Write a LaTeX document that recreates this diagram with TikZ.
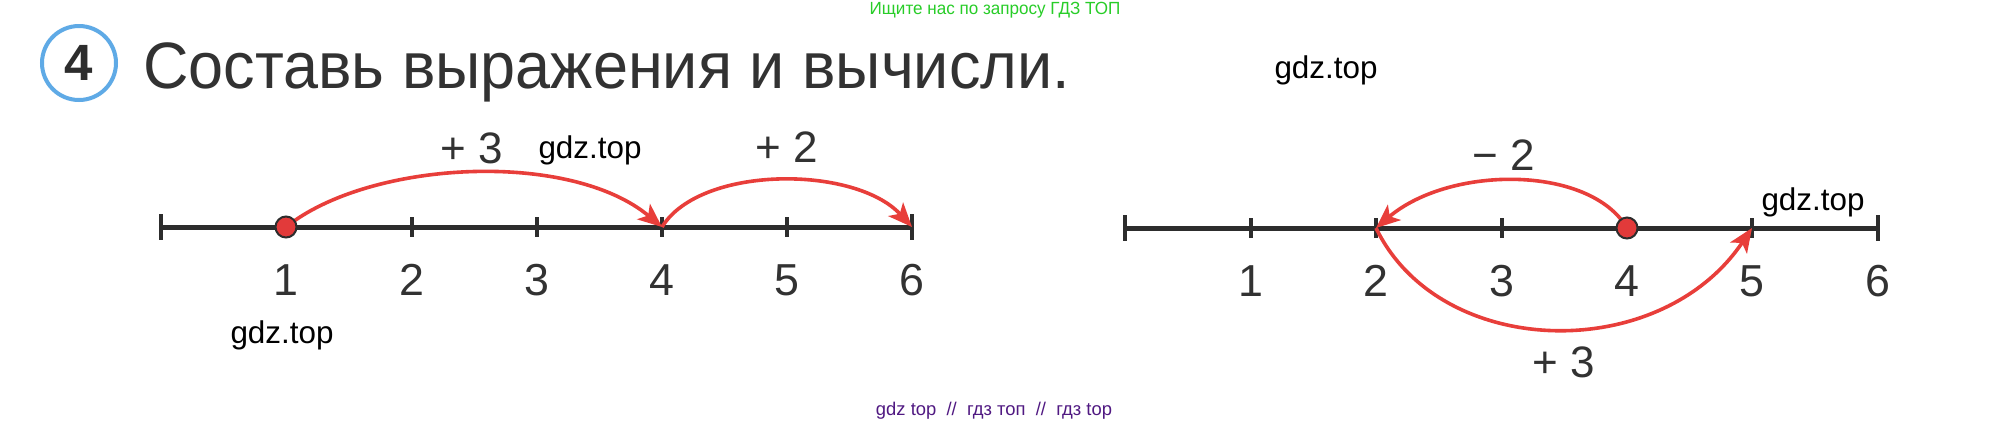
\documentclass[tikz,border=0pt]{standalone}
\usepackage{fontspec}
\setmainfont{Liberation Sans}
\usetikzlibrary{arrows.meta,calc}
\definecolor{axisgray}{RGB}{45,45,45}
\definecolor{textgray}{RGB}{50,50,50}
\definecolor{arcred}{RGB}{232,62,58}
\definecolor{dotred}{RGB}{226,58,58}
\definecolor{circblue}{RGB}{95,170,230}
\definecolor{wmgreen}{RGB}{40,205,40}
\definecolor{wmpurple}{RGB}{80,25,130}
\begin{document}
\begin{tikzpicture}[x=0.5pt,y=-0.5pt,
  axis/.style={draw=axisgray,line width=2.5pt},
  tickm/.style={draw=axisgray,line width=2pt},
  jump/.style={draw=arcred,line width=1.8pt,-{Stealth[length=12pt,width=10pt,inset=3pt]}},
  num/.style={inner sep=0pt,text=textgray,font=\fontsize{22.4pt}{26pt}\selectfont},
  jlabel/.style={inner sep=0pt,text=textgray,font=\fontsize{22pt}{26pt}\selectfont},
  dot/.style={circle,inner sep=0pt,minimum size=10.5pt,fill=dotred,draw=axisgray,line width=1pt},
  wm/.style={inner sep=0pt,text=black,font=\fontsize{15.7pt}{18pt}\selectfont}]
\fill[white] (0,0) rectangle (1990,425);
\useasboundingbox (0,0) rectangle (1990,425);
% header
\node[wm,text=wmgreen,font=\fontsize{8.8pt}{10pt}\selectfont] (topnote) at (995,10) {\scalebox{0.97}[1]{Ищите нас по запросу ГДЗ ТОП}};
\node[circle,draw=circblue,line width=2pt,minimum size=37pt,inner sep=0pt,fill=white,
      text=axisgray,font=\fontsize{25.5pt}{28pt}\selectfont\bfseries] (badge) at (79,63) {4};
\node[anchor=base west,inner sep=0pt,text=textgray,font=\fontsize{32.8pt}{38pt}\selectfont] (title) at (143,88) {\scalebox{0.96}[1]{Составь выражения и вычисли.}};
\node[wm] (wmA) at (1326,70) {gdz.top};
% number lines
\foreach \i/\x in {0/161,1/286,2/412,3/537,4/662,5/787,6/912}
  \coordinate (L\i) at (\x,227);
\foreach \i/\x in {0/1125,1/1251,2/1376,3/1502,4/1627,5/1752,6/1878}
  \coordinate (R\i) at (\x,228);
\draw[axis] (L0) -- (L6);
\draw[axis] (R0) -- (R6);
\foreach \s in {L,R}{
  \foreach \i in {0,6} \draw[tickm] (\s\i) ++(0,-13) -- ++(0,26);
  \foreach \i in {1,...,5} \draw[tickm] (\s\i) ++(0,-10) -- ++(0,20);
}
\foreach \i in {1,...,6} \path (L\i) ++(0,53) node[num] (nL\i) {\i};
\foreach \i in {1,...,6} \path (R\i) ++(0,53) node[num] (nR\i) {\i};
% jumps
\draw[jump] (L1) .. controls +(84,-67) and +(-92,-77) .. (L4);
\draw[jump] (L4) .. controls +(38,-62) and +(-57,-62) .. (L6);
\draw[jump] (R4) .. controls +(-37,-63) and +(74,-63) .. (R2);
\draw[jump] (R2) .. controls +(64,132) and +(-92,137) .. (R5);
\node[dot] (dotL) at (L1) {};
\node[dot] (dotR) at (R4) {};
\node[jlabel] (jA) at (472,148) {+ 3};
\node[jlabel] (jB) at (787,147) {+ 2};
\node[jlabel] (jC) at (1504,155) {− 2};
\node[jlabel] (jD) at (1564,362) {+ 3};
% watermarks
\node[wm] (wmB) at (590,150) {gdz.top};
\node[wm] (wmC) at (1813,202) {gdz.top};
\node[wm] (wmD) at (282,335) {gdz.top};
\node[wm,text=wmpurple,font=\fontsize{9.2pt}{10pt}\selectfont] (botnote) at (994,411) {gdz top \ // \ гдз топ \ // \ гдз top};
\end{tikzpicture}
\end{document}
